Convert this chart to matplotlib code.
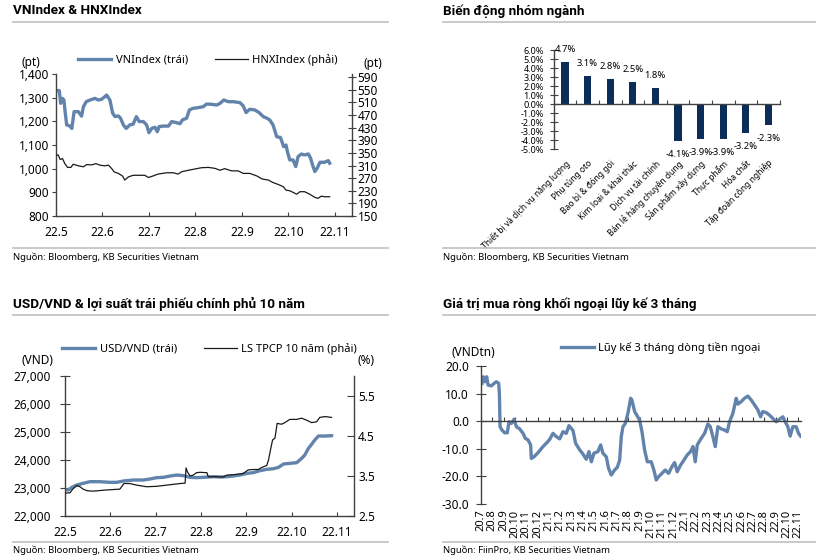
import numpy as np
import matplotlib.pyplot as plt
from matplotlib.lines import Line2D
from matplotlib.ticker import FuncFormatter

plt.rcParams['font.family'] = ['Noto Sans', 'DejaVu Sans']

W, H = 816, 559
BLUE = '#6283ac'
NAVY = '#0c2d57'
RULE = '#c0c0c0'
AXC = '#404040'

# --- VNIndex & HNXIndex (x = months since 22.5)
months_top = ['22.5', '22.6', '22.7', '22.8', '22.9', '22.10', '22.11']
vn_x = [0.00, 0.07, 0.10, 0.14, 0.17, 0.20, 0.23, 0.30, 0.34, 0.39, 0.48, 0.55, 0.59, 0.65, 0.73,
        0.84, 0.91, 0.98, 1.05, 1.09, 1.16, 1.22, 1.27, 1.34, 1.39, 1.45, 1.51, 1.59, 1.66, 1.73,
        1.79, 1.88, 1.95, 2.00, 2.06, 2.13, 2.18, 2.22, 2.31, 2.42, 2.49, 2.58, 2.67, 2.72, 2.81,
        2.87, 2.95, 3.06, 3.17, 3.24, 3.35, 3.46, 3.53, 3.61, 3.71, 3.82, 3.96, 4.03, 4.09, 4.17,
        4.28, 4.37, 4.46, 4.54, 4.60, 4.67, 4.75, 4.83, 4.90, 4.95, 4.98, 5.03, 5.10, 5.16, 5.21,
        5.28, 5.35, 5.43, 5.48, 5.52, 5.57, 5.62, 5.68, 5.78, 5.86, 5.89]
vn_y = [1330, 1330, 1276, 1297, 1290, 1234, 1185, 1180, 1170, 1241, 1241, 1222, 1262, 1283, 1290,
        1297, 1290, 1293, 1304, 1311, 1290, 1234, 1220, 1223, 1213, 1185, 1170, 1185, 1188, 1220,
        1199, 1199, 1185, 1152, 1170, 1175, 1156, 1178, 1180, 1180, 1199, 1195, 1190, 1206, 1213,
        1248, 1255, 1258, 1262, 1273, 1272, 1269, 1276, 1290, 1283, 1283, 1279, 1265, 1237, 1251,
        1248, 1237, 1220, 1213, 1206, 1185, 1135, 1132, 1093, 1100, 1072, 1037, 1037, 1009, 1051,
        1062, 1058, 1062, 1044, 1016, 988, 1002, 1027, 1027, 1034, 1023]
hnx_x = [0.00, 0.05, 0.09, 0.14, 0.19, 0.25, 0.32, 0.37, 0.48, 0.59, 0.66, 0.77, 0.86, 0.95, 1.05,
         1.13, 1.20, 1.25, 1.34, 1.43, 1.48, 1.56, 1.66, 1.81, 1.91, 1.99, 2.09, 2.20, 2.38, 2.52,
         2.63, 2.70, 2.85, 2.99, 3.13, 3.28, 3.42, 3.53, 3.63, 3.78, 3.92, 4.03, 4.17, 4.32, 4.44,
         4.57, 4.67, 4.78, 4.89, 4.95, 5.03, 5.10, 5.18, 5.25, 5.35, 5.46, 5.57, 5.64, 5.71, 5.78,
         5.89]
hnx_y = [343, 343, 329, 332, 316, 304, 304, 314, 309, 306, 313, 312, 316, 311, 309,
         311, 300, 290, 285, 277, 264, 274, 279, 279, 279, 272, 277, 283, 287, 287,
         283, 290, 295, 299, 303, 304, 301, 295, 300, 293, 293, 285, 285, 277, 267,
         264, 256, 250, 243, 232, 230, 225, 219, 227, 227, 219, 209, 206, 213, 211,
         211]

# --- sector performance
sectors = ['Thiết bị và dịch vụ năng lượng', 'Phụ tùng oto', 'Bao bì & đóng gói',
           'Kim loại & khai thác', 'Dịch vụ tài chính', 'Bán lẻ hàng chuyên dụng',
           'Sản phẩm xây dựng', 'Thực phẩm', 'Hóa chất', 'Tập đoàn công nghiệp']
sector_chg = [4.7, 3.1, 2.8, 2.5, 1.8, -4.1, -3.9, -3.9, -3.2, -2.3]

# --- USD/VND & 10y bond yield (x = months since 22.5)
usd_x = [0.00, 0.07, 0.15, 0.26, 0.40, 0.55, 0.77, 0.99, 1.14, 1.29, 1.51, 1.73, 1.87, 2.02,
         2.17, 2.32, 2.46, 2.61, 2.76, 2.90, 3.05, 3.27, 3.42, 3.57, 3.71, 3.86, 4.01, 4.15,
         4.30, 4.45, 4.60, 4.71, 4.82, 4.96, 5.11, 5.22, 5.29, 5.37, 5.44, 5.51, 5.59, 5.73,
         5.88]
usd_y = [22950, 22926, 23020, 23104, 23164, 23223, 23223, 23200, 23200, 23247, 23283, 23283,
         23318, 23366, 23378, 23425, 23460, 23440, 23378, 23366, 23378, 23401, 23390, 23401,
         23425, 23460, 23520, 23544, 23615, 23663, 23686, 23734, 23853, 23876, 23900, 24054,
         24173, 24411, 24553, 24708, 24850, 24850, 24862]
bond_x = [0.00, 0.11, 0.17, 0.26, 0.33, 0.40, 0.49, 0.62, 0.92, 1.21, 1.30, 1.43, 1.58, 1.80,
          2.02, 2.24, 2.54, 2.65, 2.67, 2.70, 2.76, 2.83, 2.90, 2.98, 3.13, 3.16, 3.35, 3.49,
          3.57, 3.71, 3.93, 4.04, 4.15, 4.26, 4.34, 4.45, 4.49, 4.54, 4.58, 4.63, 4.68, 4.78,
          4.85, 4.96, 5.11, 5.22, 5.33, 5.44, 5.55, 5.62, 5.74, 5.88]
bond_y = [3.07, 3.08, 3.17, 3.26, 3.23, 3.17, 3.13, 3.12, 3.15, 3.17, 3.31, 3.31, 3.27, 3.23,
          3.24, 3.27, 3.31, 3.32, 3.70, 3.60, 3.50, 3.52, 3.58, 3.59, 3.58, 3.48, 3.48, 3.47,
          3.52, 3.53, 3.56, 3.65, 3.66, 3.66, 3.71, 3.76, 3.90, 4.19, 4.40, 4.44, 4.81, 4.79,
          4.83, 4.91, 4.91, 4.94, 4.89, 4.83, 4.85, 4.96, 4.98, 4.96]

# --- foreign net buying, 3-month cumulative (x = months since 20.7)
flow_months = ['20.7', '20.8', '20.9', '20.10', '20.11', '20.12',
               '21.1', '21.2', '21.3', '21.4', '21.5', '21.6', '21.7', '21.8', '21.9',
               '21.10', '21.11', '21.12', '22.1', '22.2', '22.3', '22.4', '22.5', '22.6',
               '22.7', '22.8', '22.9', '22.10', '22.11']
flow_x = [0.09, 0.21, 0.38, 0.50, 0.62, 0.91, 1.15, 1.35, 1.56, 1.62, 1.68, 1.85, 2.09, 2.32,
          2.47, 2.68, 2.91, 3.12, 3.41, 3.71, 3.91, 4.15, 4.38, 4.44, 4.68, 5.03, 5.47, 5.76,
          6.06, 6.35, 6.65, 6.94, 7.24, 7.53, 7.76, 8.12, 8.35, 8.71, 9.00, 9.29, 9.53, 9.74,
          9.97, 10.32, 10.56, 10.76, 11.06, 11.26, 11.50, 11.79, 12.03, 12.24, 12.38, 12.53,
          12.74, 12.97, 13.21, 13.32, 13.56, 13.79, 14.00, 14.21, 14.44, 14.68, 15.03, 15.26,
          15.47, 15.68, 15.97, 16.26, 16.56, 16.85, 17.09, 17.32, 17.62, 17.91, 18.21, 18.50,
          18.71, 18.91, 19.09, 19.44, 19.74, 20.03, 20.24, 20.47, 20.68, 20.91, 21.21, 21.50,
          21.74, 21.94, 22.24, 22.53, 22.68, 22.97, 23.26, 23.56, 23.85, 24.15, 24.44, 24.68,
          24.88, 25.18, 25.47, 25.76, 26.06, 26.35, 26.65, 26.85, 27.09, 27.29, 27.53, 27.82,
          28.03, 28.21]
flow_y = [13.7, 16.1, 14.3, 16.1, 13.1, 12.8, 13.7, 14.3, 13.7, 10.1, -2.0, -3.2, -4.2, -4.2,
          -0.2, -0.8, 0.7, -2.0, -2.8, -4.4, -6.2, -6.8, -8.6, -13.5, -12.9, -11.4, -9.2, -8.0,
          -6.6, -4.4, -5.6, -6.4, -3.8, -4.4, -1.6, -3.4, -8.0, -10.4, -11.9, -13.8, -11.0, -14.7,
          -11.6, -11.0, -8.6, -11.6, -12.9, -17.1, -19.5, -17.7, -16.7, -14.1, -5.6, -2.0,
          -0.8, 2.9, 8.3, 7.7, 3.5, 1.9, 0.4, -3.8, -10.4, -14.7, -14.7, -17.7,
          -21.3, -20.1, -18.9, -17.7, -18.9, -16.5, -15.0, -18.3, -15.9, -14.1, -12.2, -11.0,
          -9.2, -14.7, -8.6, -6.2, -4.4, -1.0, -2.0, -5.6, -9.2, -2.0, -2.8, -3.2,
          -3.8, -0.2, 2.9, 8.3, 6.2, 7.1, 8.3, 9.1, 7.7, 5.9, 4.1, 1.6,
          3.5, 3.1, 2.2, 1.0, -0.2, 0.7, 1.6, -0.2, -2.0, -5.4, -2.0, -2.0,
          -4.4, -5.4]


def fx(px):
    return px / W


def fy(py):
    return 1 - py / H


def box(px0, py_top, px1, py_bot):
    return [fx(px0), fy(py_bot), (px1 - px0) / W, (py_bot - py_top) / H]


def panel_frame(x0, x1, y_title, y_rule, y_rule2, y_src, title, source):
    fig.text(fx(x0), fy(y_title), title, fontsize=9.7, fontweight='bold', va='center',
             family=['Roboto', 'DejaVu Sans'])
    fig.add_artist(Line2D([fx(x0), fx(x1)], [fy(y_rule)] * 2, color=RULE, lw=1.2))
    fig.add_artist(Line2D([fx(x0), fx(x1)], [fy(y_rule2)] * 2, color=RULE, lw=1.2))
    fig.text(fx(x0), fy(y_src), source, fontsize=6.8, va='center')


def style_spines(ax, visible):
    for name, sp in ax.spines.items():
        sp.set_visible(name in visible)
        sp.set_color(AXC)
        sp.set_linewidth(1.0)


fig = plt.figure(figsize=(8.16, 5.59), dpi=100)

panel_frame(13, 388, 11, 22, 248, 257, 'VNIndex & HNXIndex', 'Nguồn: Bloomberg, KB Securities Vietnam')
panel_frame(443, 816, 11, 22, 248, 257, 'Biến động nhóm ngành', 'Nguồn: Bloomberg, KB Securities Vietnam')
panel_frame(13, 388, 304, 315, 542, 550, 'USD/VND & lợi suất trái phiếu chính phủ 10 năm',
            'Nguồn: Bloomberg, KB Securities Vietnam')
panel_frame(443, 816, 304, 315, 542, 550, 'Giá trị mua ròng khối ngoại lũy kế 3 tháng',
            'Nguồn: FiinPro, KB Securities Vietnam')

TICK_FS = 8.5

# ---------------- panel 1
ax1 = fig.add_axes(box(56, 74, 352, 216))
ax1.plot(vn_x, vn_y, color=BLUE, lw=2.4, label='VNIndex (trái)')
ax1.set_xlim(0, 6.37)
ax1.set_ylim(800, 1400)
ax1.set_yticks(range(800, 1401, 100))
ax1.yaxis.set_major_formatter(FuncFormatter(lambda v, p: f'{v:,.0f}'))
ax1.set_xticks(range(7), months_top)
ax1.tick_params(axis='y', direction='out', length=3, pad=2, labelsize=TICK_FS, colors=AXC, labelcolor='black')
ax1.tick_params(axis='x', direction='in', length=3, pad=7, labelsize=TICK_FS, colors=AXC, labelcolor='black')
style_spines(ax1, ['left', 'bottom'])
ax1r = ax1.twinx()
ax1r.plot(hnx_x, hnx_y, color='#1a1a1a', lw=0.9, label='HNXIndex (phải)')
ax1r.set_ylim(150, 600)
ax1r.set_yticks(range(150, 591, 40))
ax1r.tick_params(axis='y', direction='inout', length=6, pad=1, labelsize=TICK_FS, colors=AXC, labelcolor='black')
style_spines(ax1r, ['right'])
fig.legend(ax1.get_lines() + ax1r.get_lines(), ['VNIndex (trái)', 'HNXIndex (phải)'],
           loc='center left', bbox_to_anchor=(fx(78), fy(60)), ncol=2, frameon=False,
           fontsize=8, handlelength=3.0, handletextpad=0.4, columnspacing=2.4,
           borderpad=0, borderaxespad=0)
fig.text(fx(22), fy(62), '(pt)', fontsize=8.5, va='center')
fig.text(fx(364), fy(63), '(pt)', fontsize=8.5, va='center')

# ---------------- panel 2
ax2 = fig.add_axes(box(553.7, 50, 779.7, 149))
pos = np.arange(len(sectors))
ax2.bar(pos, sector_chg, width=0.32, color=NAVY)
ax2.set_xlim(-0.5, len(sectors) - 0.5)
ax2.set_ylim(-5, 6)
ax2.set_yticks(range(-5, 7))
ax2.yaxis.set_major_formatter(FuncFormatter(lambda v, p: f'{v:.1f}%'))
ax2.tick_params(axis='y', direction='inout', length=6, pad=4, labelsize=6.5, colors=AXC, labelcolor='black')
style_spines(ax2, ['left', 'bottom'])
ax2.spines['bottom'].set_position(('data', 0))
ax2.set_xticks(np.arange(len(sectors) + 1) - 0.5, [''] * (len(sectors) + 1))
ax2.tick_params(axis='x', direction='in', length=3, colors=AXC)
for i, v in enumerate(sector_chg):
    ax2.annotate(f'{v:.1f}%', (i, v), xytext=(0, 9 if v > 0 else -10), textcoords='offset points',
                 ha='center', va='center', fontsize=6.8)
sec2 = ax2.secondary_xaxis('bottom')
sec2.set_xticks(pos, sectors)
sec2.tick_params(length=0, pad=7, labelsize=6.1)
sec2.spines['bottom'].set_visible(False)
for lbl in sec2.get_xticklabels():
    lbl.set_rotation(45)
    lbl.set_ha('right')
    lbl.set_rotation_mode('anchor')

# ---------------- panel 3
ax3 = fig.add_axes(box(65, 375.7, 354, 516))
ax3.plot(usd_x, usd_y, color=BLUE, lw=2.4)
ax3.set_xlim(0, 6.375)
ax3.set_ylim(22000, 27000)
ax3.set_yticks(range(22000, 27001, 1000))
ax3.yaxis.set_major_formatter(FuncFormatter(lambda v, p: f'{v:,.0f}'))
ax3.set_xticks(range(7), months_top)
ax3.tick_params(axis='y', direction='inout', length=7, pad=7, labelsize=TICK_FS, colors=AXC, labelcolor='black')
ax3.tick_params(axis='x', direction='in', length=3, pad=7, labelsize=TICK_FS, colors=AXC, labelcolor='black')
style_spines(ax3, ['left', 'bottom'])
ax3r = ax3.twinx()
ax3r.plot(bond_x, bond_y, color='#1a1a1a', lw=0.9)
ax3r.set_ylim(2.5, 6.0)
ax3r.set_yticks([2.5, 3.5, 4.5, 5.5])
ax3r.tick_params(axis='y', direction='in', length=5, pad=3, labelsize=TICK_FS, colors=AXC, labelcolor='black')
style_spines(ax3r, ['right'])
fig.legend(ax3.get_lines() + ax3r.get_lines(), ['USD/VND (trái)', 'LS TPCP 10 năm (phải)'],
           loc='center left', bbox_to_anchor=(fx(62), fy(349)), ncol=2, frameon=False,
           fontsize=8, handlelength=3.0, handletextpad=0.4, columnspacing=2.4,
           borderpad=0, borderaxespad=0)
fig.text(fx(22), fy(361), '(VND)', fontsize=8.5, va='center')
fig.text(fx(357), fy(361), '(%)', fontsize=8.5, va='center')

# ---------------- panel 4
ax4 = fig.add_axes(box(480.7, 366, 801, 504))
ax4.plot(flow_x, flow_y, color=BLUE, lw=2.4, label='Lũy kế 3 tháng dòng tiền ngoại')
ax4.set_xlim(-0.03, 28.25)
ax4.set_ylim(-30, 20)
ax4.set_yticks(range(-30, 21, 10))
ax4.yaxis.set_major_formatter(FuncFormatter(lambda v, p: f'{v:.1f}'))
ax4.tick_params(axis='y', direction='inout', length=7, pad=5, labelsize=TICK_FS, colors=AXC, labelcolor='black')
style_spines(ax4, ['left', 'bottom'])
ax4.spines['bottom'].set_position(('data', 0))
ax4.set_xticks(range(len(flow_months)), [''] * len(flow_months))
ax4.tick_params(axis='x', direction='in', length=3, colors=AXC)
sec4 = ax4.secondary_xaxis('bottom')
sec4.set_xticks(range(len(flow_months)), flow_months)
sec4.tick_params(length=0, pad=4, labelsize=8, rotation=90)
sec4.spines['bottom'].set_visible(False)
ax4.legend(loc='center left', bbox_to_anchor=(fx(561), fy(347.7)), bbox_transform=fig.transFigure,
           frameon=False, fontsize=8, handlelength=3.0, handletextpad=0.3, borderpad=0, borderaxespad=0)
fig.text(fx(451), fy(352), '(VNDtn)', fontsize=8.5, va='center')

fig.savefig('out.png', dpi=100)
